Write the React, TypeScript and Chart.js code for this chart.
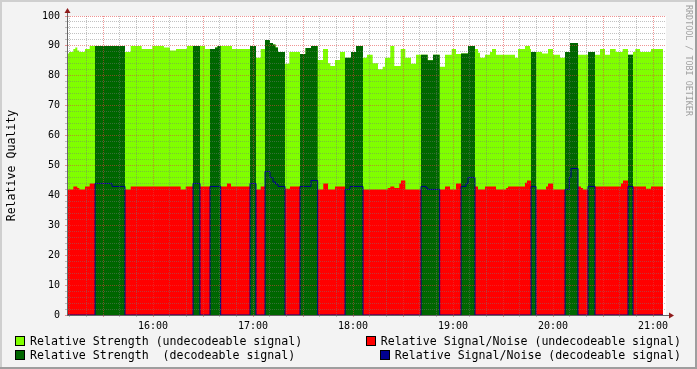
import React, { useEffect, useRef } from "react";
import { Chart, registerables } from "chart.js";

Chart.register(...registerables);

const FONT = "'DejaVu Sans Mono', 'Liberation Mono', monospace";

// Relative strength (step series: value holds from its time until the next time)
const strengthTimes = [
  "15:08:24", "15:09:36", "15:12:12", "15:13:23", "15:14:35", "15:15:47", "15:19:12", "15:22:01",
  "15:43:12", "15:46:37", "15:53:13", "15:59:35", "16:06:36", "16:10:12", "16:13:48", "16:20:24",
  "16:31:12", "16:37:12", "16:38:42", "16:47:24", "16:58:12", "17:01:48", "17:04:37", "17:07:12",
  "17:10:12", "17:12:00", "17:13:30", "17:15:00", "17:19:12", "17:21:47", "17:28:12", "17:31:30",
  "17:34:48", "17:38:49", "17:42:00", "17:45:00", "17:46:23", "17:49:12", "17:52:12", "17:55:12",
  "17:58:48", "18:01:48", "18:06:00", "18:08:24", "18:11:49", "18:15:00", "18:17:49", "18:19:12",
  "18:22:23", "18:24:47", "18:28:37", "18:31:23", "18:34:48", "18:37:48", "18:44:49", "18:48:00",
  "18:52:01", "18:55:12", "18:59:13", "19:01:48", "19:04:48", "19:09:00", "19:13:12", "19:15:00",
  "19:16:12", "19:19:12", "19:22:12", "19:23:24", "19:25:48", "19:37:12", "19:39:00", "19:43:12",
  "19:46:12", "19:46:48", "19:53:24", "19:57:00", "20:00:00", "20:04:12", "20:07:12", "20:10:12",
  "20:15:00", "20:21:00", "20:25:12", "20:28:12", "20:31:12", "20:34:12", "20:37:37", "20:41:49",
  "20:45:00", "20:48:00", "20:49:23", "20:52:12", "20:58:48",
];
const strengthValues = [
  87.5, 88, 89, 89.5, 88.5, 88, 89, 90,
  88, 90, 89, 90, 89.5, 88.5, 89, 90,
  89, 89.5, 90, 89, 90, 86, 89, 92,
  91, 90.5, 89.5, 88, 84, 88, 87.3, 89.3,
  90, 85.3, 89, 84.2, 83.3, 85.3, 88, 86,
  88, 90, 86, 87, 84.2, 82.2, 83, 86,
  90, 83.3, 89, 86, 84, 87, 85.2, 87,
  83, 87, 89, 87.3, 87.5, 90, 89, 87.7,
  86, 87, 88, 89, 87, 86, 89, 90,
  89, 88, 87.5, 89, 87, 86, 88, 91,
  87, 88, 87, 89, 87, 89, 88, 89,
  87, 88, 89, 88, 89,
];

// Relative signal/noise (step series)
const snTimes = [
  "15:08:24", "15:12:12", "15:14:35", "15:15:47", "15:19:12", "15:22:01", "15:35:24", "15:43:12",
  "15:46:37", "16:16:37", "16:19:37", "16:24:00", "16:28:12", "16:44:24", "16:46:48", "16:58:12",
  "17:01:48", "17:04:37", "17:07:12", "17:10:12", "17:12:00", "17:13:30", "17:15:00", "17:19:12",
  "17:22:12", "17:34:48", "17:38:49", "17:42:11", "17:45:00", "17:49:12", "17:55:12", "17:58:12",
  "18:06:00", "18:20:49", "18:22:23", "18:24:47", "18:27:47", "18:28:48", "18:31:23", "18:40:48",
  "18:43:48", "18:44:49", "18:55:12", "18:58:12", "19:01:48", "19:04:48", "19:07:48", "19:09:00",
  "19:13:12", "19:15:00", "19:19:12", "19:25:48", "19:31:48", "19:33:00", "19:43:12", "19:44:24",
  "19:46:48", "19:49:48", "19:55:48", "19:57:00", "20:00:00", "20:09:47", "20:10:48", "20:15:00",
  "20:16:48", "20:18:00", "20:21:00", "20:40:48", "20:42:00", "20:45:00", "20:55:48", "20:58:48",
];
const snValues = [
  42, 43, 42.5, 42, 43, 44, 43, 42,
  43, 42, 43, 44, 43, 44, 43, 44,
  42, 43, 48, 46, 44.5, 43.8, 43, 42.2,
  43, 45, 42, 44, 42, 43, 42, 43,
  42, 42.5, 43, 42.5, 44, 45, 42, 43,
  42.5, 42, 43, 42, 44, 43, 44, 46,
  43, 42, 43, 42, 42.5, 43, 44.2, 45,
  43, 42, 43, 44, 42, 46, 49, 43,
  42.5, 42, 43, 44, 45, 43, 42.2, 43,
];

// Periods in which the signal was decodeable
const decodeStarts = [
  "15:25:12", "16:24:00", "16:34:12", "16:58:12", "17:07:12", "17:28:12", "17:55:12",
  "18:40:48", "19:04:48", "19:46:48", "20:07:12", "20:21:00", "20:45:00",
];
const decodeEnds = [
  "15:43:12", "16:28:12", "16:40:37", "17:01:48", "17:19:12", "17:38:49", "18:06:00",
  "18:52:01", "19:13:12", "19:49:48", "20:15:00", "20:25:12", "20:48:00",
];
const seriesEnd = "21:06:00";
const axisStart = "15:08:24";
const axisEnd = "21:07:48";
const hourLabels = ["16:00", "17:00", "18:00", "19:00", "20:00", "21:00"];

const legendLabels = [
  "Relative Strength (undecodeable signal)",
  "Relative Strength  (decodeable signal)",
  "Relative Signal/Noise (undecodeable signal)",
  "Relative Signal/Noise (decodeable signal)",
];
const COLORS = {
  light: "#80FF00",
  dark: "#006600",
  red: "#FF0000",
  blue: "#000090",
};
const legendColors = [COLORS.light, COLORS.dark, COLORS.red, COLORS.blue];

const toMin = (s: string) => {
  const p = s.split(":").map(Number);
  return p[0] * 60 + p[1] + (p[2] || 0) / 60;
};

function buildSeries() {
  const sT = strengthTimes.map(toMin);
  const nT = snTimes.map(toMin);
  const dS = decodeStarts.map(toMin);
  const dE = decodeEnds.map(toMin);
  const end = toMin(seriesEnd);
  const all = Array.from(new Set([...sT, ...nT, ...dS, ...dE]))
    .filter((t) => t < end)
    .sort((a, b) => a - b);
  const at = (ts: number[], vs: number[], t: number) => {
    let v = vs[0];
    for (let i = 0; i < ts.length; i++) if (ts[i] <= t + 1e-9) v = vs[i];
    return v;
  };
  const isDec = (t: number) => dS.some((s, i) => t >= s - 1e-9 && t < dE[i] - 1e-9);
  const light: any[] = [], dark: any[] = [], red: any[] = [], blue: any[] = [];
  for (const t of all) {
    const s = at(sT, strengthValues, t);
    const n = at(nT, snValues, t);
    const d = isDec(t);
    light.push({ x: t, y: s });
    dark.push({ x: t, y: d ? s : 0 });
    red.push({ x: t, y: d ? 0 : n });
    blue.push({ x: t, y: d ? n : 0 });
  }
  for (const arr of [light, dark, red, blue]) arr.push({ x: end, y: arr[arr.length - 1].y });
  return { light, dark, red, blue };
}

const MAJOR = "rgba(225,60,60,0.55)";
const MINOR = "rgba(120,120,120,0.45)";
const AXIS = "#666666";

const decorPlugin = {
  id: "rrdDecor",
  beforeDraw(chart: any) {
    const { ctx, width, height, chartArea: a } = chart;
    ctx.save();
    ctx.fillStyle = "#F3F3F3";
    ctx.fillRect(0, 0, width, height);
    ctx.fillStyle = "#CFCFCF";
    ctx.fillRect(0, 0, width, 2);
    ctx.fillRect(0, 0, 2, height);
    ctx.fillStyle = "#9E9E9E";
    ctx.fillRect(0, height - 2, width, 2);
    ctx.fillRect(width - 2, 0, 2, height);
    ctx.fillStyle = "#FFFFFF";
    ctx.fillRect(a.left, a.top, a.right - a.left, a.bottom - a.top);
    ctx.restore();
  },
  afterDraw(chart: any) {
    const { ctx, chartArea: a } = chart;
    ctx.save();
    ctx.strokeStyle = AXIS;
    ctx.lineWidth = 1;
    ctx.beginPath();
    ctx.moveTo(Math.round(a.left) + 0.5, a.top);
    ctx.lineTo(Math.round(a.left) + 0.5, a.top - 4);
    ctx.moveTo(a.right, Math.round(a.bottom) + 0.5);
    ctx.lineTo(a.right + 3, Math.round(a.bottom) + 0.5);
    ctx.stroke();
    ctx.fillStyle = "#8E1B1B";
    const lx = Math.round(a.left) + 0.5;
    ctx.beginPath();
    ctx.moveTo(lx - 3, a.top - 3);
    ctx.lineTo(lx + 3, a.top - 3);
    ctx.lineTo(lx, a.top - 8);
    ctx.closePath();
    ctx.fill();
    const by = Math.round(a.bottom) + 0.5;
    ctx.beginPath();
    ctx.moveTo(a.right + 3, by - 3);
    ctx.lineTo(a.right + 3, by + 3);
    ctx.lineTo(a.right + 8, by);
    ctx.closePath();
    ctx.fill();
    ctx.translate(688, 5);
    ctx.rotate(Math.PI / 2);
    ctx.fillStyle = "#A0A0A0";
    ctx.font = "8.4px " + FONT;
    ctx.textBaseline = "middle";
    ctx.textAlign = "left";
    ctx.fillText("RRDTOOL / TOBI OETIKER", 0, 0);
    ctx.restore();
  },
};

export default function App() {
  const ref = useRef<HTMLCanvasElement | null>(null);
  useEffect(() => {
    if (!ref.current) return;
    const { light, dark, red, blue } = buildSeries();
    const hourVals = hourLabels.map(toMin);
    const common = { stepped: true, pointRadius: 0, borderWidth: 0, tension: 0 };
    const chart = new Chart(ref.current, {
      type: "line",
      data: {
        datasets: [
          { ...common, label: legendLabels[3], data: blue, borderColor: COLORS.blue, borderWidth: 1, fill: false },
          { ...common, label: legendLabels[1], data: dark, borderColor: "rgba(0,0,0,0)", backgroundColor: COLORS.dark, fill: "origin" },
          { ...common, label: legendLabels[2], data: red, borderColor: "rgba(0,0,0,0)", backgroundColor: COLORS.red, fill: "origin" },
          { ...common, label: legendLabels[0], data: light, borderColor: "rgba(0,0,0,0)", backgroundColor: COLORS.light, fill: "origin" },
        ] as any,
      },
      options: {
        animation: false,
        responsive: false,
        events: [],
        layout: { padding: { left: 0, top: 16, right: 31, bottom: 0 } },
        plugins: { legend: { display: false }, tooltip: { enabled: false } },
        scales: {
          x: {
            type: "linear",
            min: toMin(axisStart),
            max: toMin(axisEnd),
            afterFit: (s: any) => { s.height = 54; },
            grid: {
              z: 1,
              drawTicks: true,
              tickLength: 2,
              lineWidth: 1,
              color: (c: any) => (Math.round(c.tick.value) % 30 === 0 ? MAJOR : MINOR),
            },
            border: { display: true, color: AXIS, dash: [1, 1], z: 2 },
            ticks: {
              z: 2,
              stepSize: 10,
              includeBounds: false,
              autoSkip: false,
              maxRotation: 0,
              padding: 3,
              color: "#000",
              font: { family: FONT, size: 10 },
              callback: (v: any) => {
                const i = hourVals.findIndex((h) => Math.abs(h - Number(v)) < 1e-6);
                return i >= 0 ? hourLabels[i] : "";
              },
            },
          },
          y: {
            type: "linear",
            min: 0,
            max: 100,
            afterFit: (s: any) => { s.width = 67; },
            grid: {
              z: 1,
              drawTicks: true,
              tickLength: 2,
              lineWidth: 1,
              color: (c: any) => (Math.round(c.tick.value) % 10 === 0 ? MAJOR : MINOR),
            },
            border: { display: true, color: AXIS, dash: [1, 1], z: 2 },
            title: {
              display: true,
              text: "Relative Quality",
              color: "#000",
              font: { family: FONT, size: 11.6 },
              padding: { top: 5, bottom: 0 },
            },
            ticks: {
              z: 2,
              stepSize: 2,
              autoSkip: false,
              padding: 5,
              color: "#000",
              font: { family: FONT, size: 10 },
              callback: (v: any) => (Number(v) % 10 === 0 ? String(v) : ""),
            },
          },
        },
      },
      plugins: [decorPlugin],
    } as any);
    return () => chart.destroy();
  }, []);

  const item = (i: number, pos: any) => (
    <div
      key={i}
      style={{
        position: "absolute",
        ...pos,
        height: 14,
        display: "flex",
        alignItems: "center",
        whiteSpace: "pre",
        fontFamily: FONT,
        fontSize: 11.6,
        lineHeight: "14px",
        color: "#000",
      }}
    >
      <span
        style={{
          display: "inline-block",
          width: 8,
          height: 8,
          border: "1px solid #000",
          background: legendColors[i],
          marginRight: 5,
        }}
      />
      <span>{legendLabels[i]}</span>
    </div>
  );

  return (
    <div style={{ position: "absolute", left: 0, top: 0, width: 697, height: 369, overflow: "hidden" }}>
      <canvas ref={ref} width={697} height={369} style={{ display: "block" }} />
      {item(0, { left: 15, top: 334 })}
      {item(1, { left: 15, top: 348 })}
      {item(2, { right: 16, top: 334 })}
      {item(3, { right: 16, top: 348 })}
    </div>
  );
}
